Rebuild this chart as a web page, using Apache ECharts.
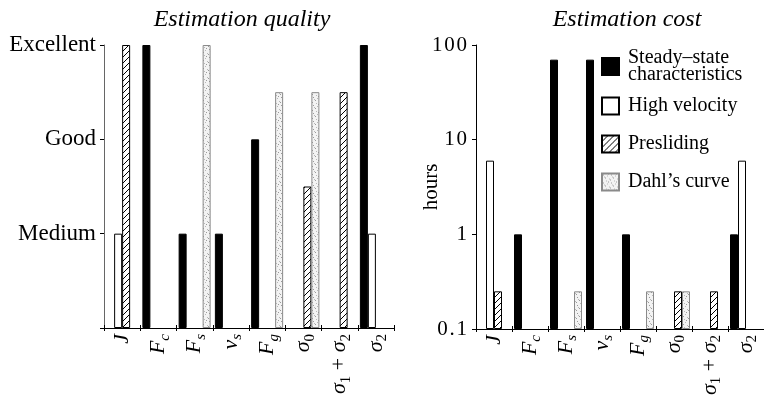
<!DOCTYPE html>
<html>
<head>
<meta charset="utf-8">
<script src="https://cdn.jsdelivr.net/npm/echarts@6/dist/echarts.min.js"></script>
<style>
  html, body { margin: 0; padding: 0; background: #fff; }
  #chart { width: 764px; height: 403px; }
</style>
</head>
<body>
<div id="chart"></div>
<script>
// categories (rich text keys used for sub/superscripts)
const categories = ['J', 'Fc', 'Fs', 'vs', 'Fg', 's0', 's12', 's2'];
const seriesNames = ['Steady\u2013state\ncharacteristics', 'High velocity', 'Presliding', "Dahl\u2019s curve"];

// quality: 1 = Medium, 2 = Good, 3 = Excellent
const qualityLevels = ['', 'Medium', 'Good', 'Excellent'];
const qualitySteady = ['-', 3, 1, 1, 2, '-', '-', 3];
const qualityHighVel = [1, '-', '-', '-', '-', '-', '-', 1];
const qualityPresliding = [3, '-', '-', '-', '-', 1.5, 2.5, '-'];
const qualityDahl = ['-', '-', 3, '-', 2.5, 2.5, '-', '-'];

// cost in hours (plotted on a log10 scale)
const costTicks = [0.1, 1, 10, 100];
const costSteady = ['-', 1, 70, 70, 1, '-', '-', 1];
const costHighVel = [6, '-', '-', '-', '-', '-', '-', 6];
const costPresliding = [0.25, '-', '-', '-', '-', 0.25, 0.25, '-'];
const costDahl = ['-', '-', 0.25, '-', 0.25, 0.25, '-', '-'];

const FONT = 'Liberation Serif';

// label rich text per category
const labelText = {
  J: '{i|J}',
  Fc: '{i|F}{s|c}',
  Fs: '{i|F}{s|s}',
  vs: '{i|v}{s|s}',
  Fg: '{i|F}{s|g}',
  s0: '{i|\u03c3}{n|0}',
  s12: '{i|\u03c3}{n|1}{r| + }{i|\u03c3}{n|2}',
  s2: '{i|\u03c3}{n|2}'
};

// fill patterns
function hatchPattern() {
  const c = document.createElement('canvas');
  c.width = 6; c.height = 6;
  const g = c.getContext('2d');
  g.fillStyle = '#fff';
  g.fillRect(0, 0, 6, 6);
  g.strokeStyle = '#000';
  g.lineWidth = 1;
  g.beginPath();
  g.moveTo(0, 6); g.lineTo(6, 0);
  g.moveTo(-1, 1); g.lineTo(1, -1);
  g.moveTo(5, 7); g.lineTo(7, 5);
  g.stroke();
  return { image: c, repeat: 'repeat' };
}

function stipplePattern() {
  const c = document.createElement('canvas');
  c.width = 8; c.height = 8;
  const g = c.getContext('2d');
  g.fillStyle = '#f3f3f3';
  g.fillRect(0, 0, 8, 8);
  const dots = [[1, 1], [5, 2], [3, 4], [7, 5], [0, 6], [4, 7], [6, 0], [2, 3]];
  dots.forEach(function (d, i) {
    g.fillStyle = i % 2 ? '#b8b8b8' : '#9a9a9a';
    g.fillRect(d[0], d[1], 1, 1);
  });
  return { image: c, repeat: 'repeat' };
}

const styles = [
  { color: '#000', borderColor: '#000', borderWidth: 1 },
  { color: '#fff', borderColor: '#000', borderWidth: 1 },
  { color: hatchPattern(), borderColor: '#000', borderWidth: 1 },
  { color: stipplePattern(), borderColor: '#8a8a8a', borderWidth: 1 }
];

const richLabel = {
  i: { fontFamily: FONT, fontStyle: 'italic', fontSize: 22, lineHeight: 28, color: '#000' },
  s: { fontFamily: FONT, fontStyle: 'italic', fontSize: 15, lineHeight: 15, verticalAlign: 'bottom', color: '#000' },
  n: { fontFamily: FONT, fontSize: 15, lineHeight: 15, verticalAlign: 'bottom', color: '#000' },
  r: { fontFamily: FONT, fontSize: 22, lineHeight: 28, color: '#000' }
};

function makeXAxes(gridIndex) {
  const main = {
    type: 'category',
    gridIndex: gridIndex,
    data: categories,
    position: 'bottom',
    axisLine: { onZero: false, lineStyle: { color: '#000', width: 1 } },
    axisTick: { show: true, length: 3, lineStyle: { color: '#000' } },
    axisLabel: {
      rotate: 90,
      margin: 6,
      formatter: function (v) { return labelText[v]; },
      rich: richLabel
    }
  };
  // second axis only to draw the inner half of the crossing ticks
  const inner = {
    type: 'category',
    gridIndex: gridIndex,
    data: categories,
    position: 'bottom',
    offset: 0,
    axisLine: { show: false, onZero: false },
    axisTick: { show: true, inside: true, length: 3, lineStyle: { color: '#000' } },
    axisLabel: { show: false }
  };
  return [main, inner];
}

// log10 position, measured in decades above the lowest tick (0.1 h)
const logMin = Math.log10(costTicks[0]);
function decades(arr) {
  return arr.map(function (v) { return v === '-' ? '-' : Math.log10(v) - logMin; });
}

const chart = echarts.init(document.getElementById('chart'));

const qualityData = [qualitySteady, qualityHighVel, qualityPresliding, qualityDahl];
const costData = [costSteady, costHighVel, costPresliding, costDahl];

const series = [];
seriesNames.forEach(function (name, k) {
  series.push({
    name: name, type: 'bar', xAxisIndex: 0, yAxisIndex: 0,
    data: qualityData[k], barWidth: 8, barGap: '0%',
    itemStyle: styles[k], emphasis: { disabled: true }, animation: false
  });
});
seriesNames.forEach(function (name, k) {
  series.push({
    name: name, type: 'bar', xAxisIndex: 2, yAxisIndex: 1,
    data: decades(costData[k]), barWidth: 8, barGap: '0%',
    itemStyle: styles[k], emphasis: { disabled: true }, animation: false
  });
});

// one legend per entry so each can be placed where the reference has it
const legendTops = [48, 96, 134, 172];
const legends = seriesNames.map(function (name, k) {
  return {
    data: [name],
    orient: 'vertical',
    left: 601,
    top: legendTops[k],
    padding: 0,
    icon: 'rect',
    itemWidth: 17,
    itemHeight: 17,
    itemGap: 0,
    selectedMode: false,
    textStyle: { fontFamily: FONT, fontSize: 20, color: '#000', lineHeight: 17, padding: [0, 0, 0, 4] }
  };
});

chart.setOption({
  animation: false,
  textStyle: { fontFamily: FONT },
  title: [
    {
      text: 'Estimation quality', left: 237, top: 3, textAlign: 'center',
      textStyle: { fontFamily: FONT, fontStyle: 'italic', fontWeight: 'normal', fontSize: 24, color: '#000' }
    },
    {
      text: 'Estimation cost', left: 622, top: 3, textAlign: 'center',
      textStyle: { fontFamily: FONT, fontStyle: 'italic', fontWeight: 'normal', fontSize: 24, color: '#000' }
    }
  ],
  legend: legends,
  grid: [
    { left: 104, top: 45, width: 290, height: 283 },
    { left: 476, top: 45, width: 290, height: 284 }
  ],
  xAxis: makeXAxes(0).concat(makeXAxes(1)),
  yAxis: [
    {
      type: 'value', gridIndex: 0, min: 0, max: 3, interval: 1,
      splitLine: { show: false },
      axisLine: { show: true, lineStyle: { color: '#666' } },
      axisTick: { show: true, length: 4, lineStyle: { color: '#000' } },
      axisLabel: {
        margin: 8, fontFamily: FONT, fontSize: 23, color: '#000',
        formatter: function (v) { return qualityLevels[v] || ''; }
      }
    },
    {
      type: 'value', gridIndex: 1, min: 0, max: costTicks.length - 1, interval: 1,
      splitLine: { show: false },
      axisLine: { show: true, lineStyle: { color: '#000' } },
      axisTick: { show: true, length: 4, lineStyle: { color: '#000' } },
      axisLabel: {
        margin: 9, fontFamily: FONT, fontSize: 21, color: '#000',
        formatter: function (v) {
          const t = costTicks[Math.round(v)];
          return String(t).split('').join('\u200a');
        }
      },
      name: 'hours',
      nameLocation: 'middle',
      nameRotate: 90,
      nameGap: 34,
      nameMoveOverlap: false,
      nameTextStyle: { fontFamily: FONT, fontSize: 21, color: '#000' }
    }
  ],
  series: series
});
</script>
</body>
</html>
